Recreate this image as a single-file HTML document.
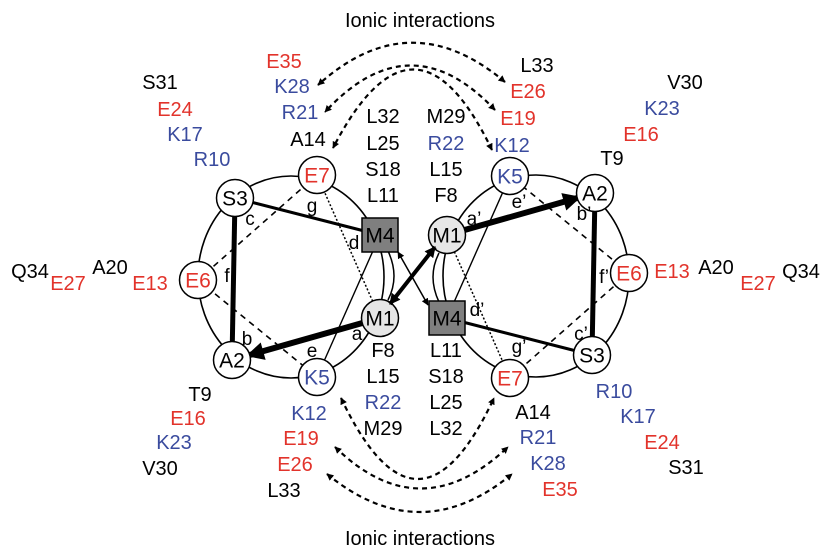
<!DOCTYPE html>
<html><head><meta charset="utf-8"><style>
html,body{margin:0;padding:0;background:#fff;}
svg{display:block;font-family:"Liberation Sans",Arial,sans-serif;}
</style></head><body>
<svg id="fig" width="837" height="555" viewBox="0 0 837 555" xmlns="http://www.w3.org/2000/svg">
<defs>
<marker id="ah" viewBox="0 0 10 10" refX="9" refY="5" markerWidth="7" markerHeight="8" orient="auto-start-reverse" markerUnits="userSpaceOnUse"><path d="M0,0 L10,5 L0,10 z" fill="#000"/></marker>
<marker id="ahs" viewBox="0 0 10 10" refX="9" refY="5" markerWidth="11" markerHeight="11" orient="auto-start-reverse" markerUnits="userSpaceOnUse"><path d="M0,0 L10,5 L0,10 z" fill="#000"/></marker>
<marker id="ahb" viewBox="0 0 10 10" refX="8" refY="5" markerWidth="22" markerHeight="18" orient="auto-start-reverse" markerUnits="userSpaceOnUse"><path d="M0,0 L10,5 L0,10 z" fill="#000"/></marker>
</defs>
<text x="420" y="27" text-anchor="middle" font-size="20">Ionic interactions</text>
<text x="420" y="545" text-anchor="middle" font-size="20">Ionic interactions</text>
<g fill="none" stroke="#000" stroke-width="2.2" stroke-dasharray="5,4">
<path d="M505,82 Q410,2 318,85" marker-end="url(#ah)" marker-start="url(#ah)"/>
<path d="M495,110 Q410,20 325,112" marker-end="url(#ah)" marker-start="url(#ah)"/>
<path d="M492,150 Q415,-10 333,148" marker-end="url(#ah)" marker-start="url(#ah)"/>
<path d="M341,398 Q418,560 494,398" marker-end="url(#ah)" marker-start="url(#ah)"/>
<path d="M335,447 Q420,530 508,447" marker-end="url(#ah)" marker-start="url(#ah)"/>
<path d="M327,474 Q420,550 512,474" marker-end="url(#ah)" marker-start="url(#ah)"/>
</g>
<g id="wheels"></g>
<g id="labels"></g>
</svg>
<script>
const nodeNames=["S3","E7","M4","M1","K5","A2","E6"];
const nodeColors=["#000","#e2332b","#000","#000","#3a4b9e","#000","#e2332b"];
const nodeX=[235,317,380,380,317,232,198];
const nodeY=[198,175,235,318,377,360,280];
const letters=["c","g","d","f","b","e","a"];
const letterX=[250,312,354,227,247,312,357];
const letterY=[225,212,249,282,345,357,340];
const labelText=["E35","K28","R21","A14","S31","E24","K17","R10","L33","E26","E19","K12","V30","K23","E16","T9","Q34","E27","A20","E13","E13","A20","E27","Q34","T9","E16","K23","V30","K12","E19","E26","L33","A14","R21","K28","E35","R10","K17","E24","S31","L32","L25","S18","L11","M29","R22","L15","F8","F8","L15","R22","M29","L11","S18","L25","L32"];
const labelColor=["r","b","b","k","k","r","b","b","k","r","r","b","k","b","r","k","k","r","k","r","r","k","r","k","k","r","b","k","b","r","r","k","k","b","b","r","b","b","r","k","k","k","k","k","k","b","k","k","k","k","b","k","k","k","k","k"];
const labelX=[284,292,300,308,160,175,185,212,537,528,518,512,685,662,641,612,30,68,110,150,672,716,758,801,200,188,174,160,309,301,295,284,533,538,548,560,614,638,662,686,383,383,383,383,446,446,446,446,383,383,383,383,446,446,446,446];
const labelY=[68,93,119,146,89,116,141,166,72,98,125,152,89,115,141,165,278,290,274,290,278,274,290,278,401,425,449,475,420,445,471,497,419,444,470,496,398,423,449,474,123,150,176,202,123,150,176,202,357,383,409,435,357,383,409,435];
const col={r:"#e2332b",b:"#3a4b9e",k:"#000"};
const NS="http://www.w3.org/2000/svg";
function mk(tag,attrs,parent){const e=document.createElementNS(NS,tag);for(const k in attrs)e.setAttribute(k,attrs[k]);parent.appendChild(e);return e;}
const W=document.getElementById('wheels');
function drawWheel(side){
  const g=mk('g',{},W);
  
  
  const P=(i)=>side==='left'?[nodeX[i],nodeY[i]]:[827-nodeX[i],553-nodeY[i]];
  const cx=side==='left'?291:536, cy=side==='left'?277:276;
  const ring=mk('ellipse',{cx:cx,cy:cy,rx:93,ry:101,fill:'none',stroke:'#000','stroke-width':1.6},g);
  
  
  const ln=(a,b,w,dash,marker)=>{const p=P(a),q=P(b);const l=mk('line',{x1:p[0],y1:p[1],x2:q[0],y2:q[1],stroke:'#000','stroke-width':w},g);if(dash)l.setAttribute('stroke-dasharray',dash);if(marker)l.setAttribute('marker-end',marker);return l;};
  ln(1,6,1.6,"6,5");ln(6,4,1.6,"6,5");ln(1,3,1.5,"2,2");ln(2,4,1.4);
  ln(0,5,5);ln(0,2,3);
  const p=P(3),q=P(5);const dx=q[0]-p[0],dy=q[1]-p[1],L=Math.hypot(dx,dy);
  const ar=mk('line',{x1:p[0],y1:p[1],x2:q[0]-dx/L*18,y2:q[1]-dy/L*18,stroke:'#000','stroke-width':6,'marker-end':'url(#ahb)'},g);
  
  
  const s=side==='left'?1:-1;const m4=P(2),m1=P(3);
  mk('path',{d:`M${m4[0]+8*s},${m4[1]+16*s} Q${m4[0]+20*s},${(m4[1]+m1[1])/2} ${m1[0]+8*s},${m1[1]-18*s}`,fill:'none',stroke:'#000','stroke-width':1.5},g);
  for(let i=0;i<nodeNames.length;i++){
    const c=P(i);
    let sh;
    if(nodeNames[i]==='M4'){sh=mk('rect',{x:c[0]-18,y:c[1]-17,width:36,height:34,fill:'#7f7f7f',stroke:'#000','stroke-width':1.5},g);}
    else sh=mk('circle',{cx:c[0],cy:c[1],r:18.5,fill:nodeNames[i]==='M1'?'#e6e6e6':'#fff',stroke:'#000','stroke-width':1.5},g);
    
    
    const t=mk('text',{x:c[0],y:c[1]+7.5,'text-anchor':'middle','font-size':21,fill:nodeColors[i]},g);t.textContent=nodeNames[i];
    
    
  }
  for(let i=0;i<letters.length;i++){
    const x=side==='left'?letterX[i]:827-letterX[i]+4, y=side==='left'?letterY[i]:553-letterY[i]+12;
    const t=mk('text',{x:x,y:y,'text-anchor':'middle','font-size':19},g);t.textContent=letters[i]+(side==='left'?'':'\u2019');
    
    
  }
}
drawWheel('left');drawWheel('right');
const da=mk('line',{x1:390,y1:304,x2:435,y2:247,stroke:'#000','stroke-width':4,'marker-end':'url(#ahs)','marker-start':'url(#ahs)'},W);


const tb=mk('line',{x1:398,y1:252,x2:428,y2:305,stroke:'#000','stroke-width':1.5,'marker-end':'url(#ah)','marker-start':'url(#ah)'},W);


const LB=document.getElementById('labels');
for(let i=0;i<labelText.length;i++){
  const t=mk('text',{x:labelX[i],y:labelY[i],'text-anchor':'middle','font-size':20,fill:col[labelColor[i]]},LB);
  t.textContent=labelText[i];
  
  
}
</script>
</body></html>
